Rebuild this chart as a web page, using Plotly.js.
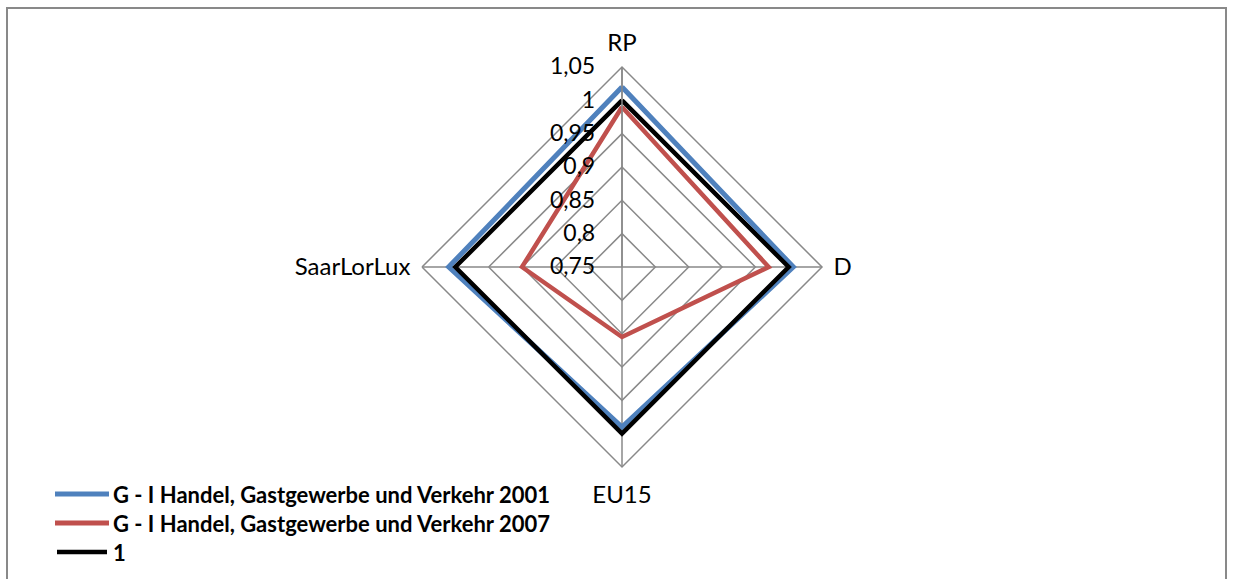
<!DOCTYPE html>
<html>
<head>
<meta charset="utf-8">
<script src="https://cdn.plot.ly/plotly-3.0.1.min.js"></script>
<style>html,body{margin:0;padding:0;background:#fff;}#chart{width:1233px;height:579px;}</style>
</head>
<body>
<div id="chart"></div>
<script>
const categories = ['RP', 'D', 'EU15', 'SaarLorLux'];
const seriesNames = ['G - I Handel, Gastgewerbe und Verkehr 2001', 'G - I Handel, Gastgewerbe und Verkehr 2007', '1'];
const values2001 = [1.02, 1.007, 0.99, 1.01];
const values2007 = [0.99, 0.97, 0.855, 0.90];
const valuesOne = [1, 1, 1, 1];
const tickVals = [0.75, 0.8, 0.85, 0.9, 0.95, 1, 1.05];
const tickLabels = ['0,75', '0,8', '0,85', '0,9', '0,95', '1', '1,05'];

const colors = ['#4F81BD', '#C0504D', '#000000'];
const widths = [5, 4.5, 4.5];
const allValues = [values2001, values2007, valuesOne];

const W = 1233, H = 579;
const px = x => x / W;
const py = y => 1 - y / H;
const FONT = 'Lato, "Open Sans", sans-serif';

const close = a => a.concat([a[0]]);

const traces = allValues.map((v, i) => ({
  type: 'scatterpolar',
  mode: 'lines',
  r: close(v),
  theta: close(categories),
  name: seriesNames[i],
  line: {color: colors[i], width: widths[i]},
  showlegend: false,
  hoverinfo: 'skip'
}));

const shapes = [
  {type: 'rect', xref: 'paper', yref: 'paper', x0: px(7), x1: px(1226), y0: py(590), y1: py(8),
   line: {color: '#898989', width: 2}, fillcolor: 'rgba(0,0,0,0)'}
];
const annotations = [];
const legendY = [494, 523, 552];
seriesNames.forEach((n, i) => {
  shapes.push({type: 'line', xref: 'paper', yref: 'paper',
    x0: px(i === 2 ? 57 : 55), x1: px(i === 2 ? 107 : 109), y0: py(legendY[i]), y1: py(legendY[i]),
    line: {color: colors[i], width: i === 2 ? 4.5 : 5}});
  annotations.push({xref: 'paper', yref: 'paper', x: px(111), y: py(legendY[i]),
    xanchor: 'left', yanchor: 'middle', showarrow: false, text: '<b>' + n + '</b>',
    font: {family: FONT, size: 22, color: '#000'}});
});

const layout = {
  width: W, height: H,
  margin: {l: 0, r: 0, t: 0, b: 0},
  paper_bgcolor: '#fff',
  showlegend: false,
  font: {family: FONT, size: 22, color: '#000'},
  polar: {
    domain: {x: [px(422), px(822)], y: [py(467), py(67)]},
    bgcolor: 'rgba(0,0,0,0)',
    gridshape: 'linear',
    radialaxis: {
      range: [0.75, 1.05],
      tickvals: tickVals,
      ticktext: tickLabels,
      angle: 90,
      side: 'counterclockwise',
      tickangle: 90,
      showline: true,
      linecolor: '#898989',
      linewidth: 1.5,
      gridcolor: '#898989',
      gridwidth: 1.5,
      ticks: 'outside',
      ticklen: 18,
      tickcolor: 'rgba(0,0,0,0)',
      tickfont: {family: FONT, size: 23, color: '#000'}
    },
    angularaxis: {
      type: 'category',
      categoryarray: categories,
      rotation: 90,
      direction: 'clockwise',
      showline: true,
      linecolor: '#898989',
      linewidth: 1.5,
      gridcolor: '#898989',
      gridwidth: 1.5,
      ticks: 'outside',
      ticklen: 6,
      tickcolor: 'rgba(0,0,0,0)',
      tickfont: {family: FONT, size: 24, color: '#000'}
    }
  },
  shapes: shapes,
  annotations: annotations
};

Plotly.newPlot('chart', traces, layout, {displayModeBar: false, staticPlot: true});
</script>
</body>
</html>
